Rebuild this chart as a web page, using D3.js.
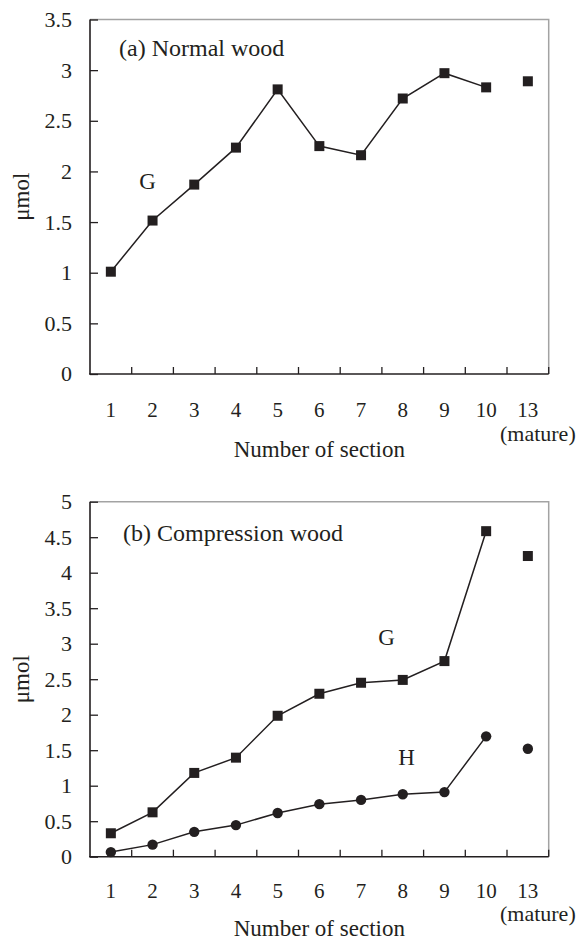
<!DOCTYPE html>
<html>
<head>
<meta charset="utf-8">
<script src="https://cdn.jsdelivr.net/npm/d3@7"></script>
<style>
  body { margin: 0; background: #fff; }
  svg { display: block; }
  text { font-family: "Liberation Serif", "Times New Roman", serif; fill: #231f20; }
</style>
</head>
<body>
<svg id="chart" width="582" height="940"></svg>
<script>
// sections along the stem; "13" is the mature section (not joined by the line)
const sections = ["1", "2", "3", "4", "5", "6", "7", "8", "9", "10", "13"];

// (a) normal wood, G units (umol)
const normalG = [1.01, 1.515, 1.87, 2.235, 2.81, 2.25, 2.16, 2.72, 2.97, 2.83, 2.89];

// (b) compression wood, G and H units (umol)
const compG = [0.33, 0.625, 1.18, 1.395, 1.985, 2.295, 2.45, 2.49, 2.755, 4.585, 4.235];
const compH = [0.065, 0.17, 0.35, 0.445, 0.615, 0.74, 0.8, 0.88, 0.91, 1.695, 1.52];

const yTicksA = d3.range(0, 3.51, 0.5);
const yTicksB = d3.range(0, 5.01, 0.5);

const ink = "#231f20";
const svg = d3.select("#chart");

const left = 90, right = 548.7;

function drawPanel(cfg) {
  const g = svg.append("g");

  const x = d3.scaleBand().domain(sections).range([left, right]).padding(0);
  const y = d3.scaleLinear().domain([0, cfg.yMax]).range([cfg.bottom, cfg.top]);

  // gray frame top + right
  g.append("path")
    .attr("d", `M${left},${cfg.top}H${right}V${cfg.bottom}`)
    .attr("fill", "none")
    .attr("stroke", "#a3a3a3")
    .attr("stroke-width", 1.5);

  // y axis, ticks pointing inward
  const yAxis = g.append("g").attr("transform", `translate(${left},0)`)
    .call(d3.axisRight(y).tickValues(cfg.yTicks).tickSize(8).tickFormat(""));
  yAxis.select(".domain").remove();
  yAxis.selectAll("line").attr("stroke", ink).attr("stroke-width", 1.3);
  g.append("line")
    .attr("x1", left).attr("x2", left)
    .attr("y1", cfg.top).attr("y2", cfg.bottom)
    .attr("stroke", ink).attr("stroke-width", 1.6);

  g.selectAll("text.ytick")
    .data(cfg.yTicks)
    .join("text")
    .attr("class", "ytick")
    .attr("x", left - 18)
    .attr("y", (d) => y(d))
    .attr("dy", "0.34em")
    .attr("text-anchor", "end")
    .attr("font-size", 22)
    .text((d) => d3.format("~g")(d));

  // x axis: ticks at band boundaries, pointing up
  const bounds = sections.map((s) => x(s) + x.bandwidth());
  g.selectAll("line.xtick")
    .data(bounds)
    .join("line")
    .attr("class", "xtick")
    .attr("x1", (d) => d).attr("x2", (d) => d)
    .attr("y1", cfg.bottom).attr("y2", cfg.bottom - 7)
    .attr("stroke", ink).attr("stroke-width", 1.3);
  g.append("line")
    .attr("x1", left - 1).attr("x2", right)
    .attr("y1", cfg.bottom).attr("y2", cfg.bottom)
    .attr("stroke", ink).attr("stroke-width", 1.6);

  g.selectAll("text.xtick")
    .data(sections)
    .join("text")
    .attr("class", "xtick")
    .attr("x", (d) => x(d) + x.bandwidth() / 2)
    .attr("y", cfg.bottom + cfg.tickDy)
    .attr("text-anchor", "middle")
    .attr("font-size", 21)
    .text((d) => d);

  g.append("text")
    .attr("x", x("13") + x.bandwidth() / 2 + 10)
    .attr("y", cfg.bottom + cfg.matureDy)
    .attr("text-anchor", "middle")
    .attr("font-size", 22)
    .text("(mature)");

  g.append("text")
    .attr("x", (left + right) / 2)
    .attr("y", cfg.bottom + cfg.titleDy)
    .attr("text-anchor", "middle")
    .attr("font-size", 23)
    .text("Number of section");

  g.append("text")
    .attr("transform", `translate(29,${(cfg.top + cfg.bottom) / 2}) rotate(-90)`)
    .attr("text-anchor", "middle")
    .attr("font-size", 23)
    .text("μmol");

  g.append("text")
    .attr("x", cfg.titleX)
    .attr("y", cfg.top + cfg.titleY)
    .attr("font-size", 24)
    .text(cfg.title);

  // series
  const line = d3.line()
    .defined((d, i) => i < sections.length - 1)
    .x((d, i) => x(sections[i]) + x.bandwidth() / 2)
    .y((d) => y(d));

  cfg.series.forEach((s) => {
    g.append("path")
      .datum(s.values)
      .attr("d", line)
      .attr("fill", "none")
      .attr("stroke", ink)
      .attr("stroke-width", 1.5);

    const pts = g.selectAll(null)
      .data(s.values)
      .join(s.shape === "square" ? "rect" : "circle")
      .attr("fill", ink);
    if (s.shape === "square") {
      pts.attr("x", (d, i) => x(sections[i]) + x.bandwidth() / 2 - 5)
        .attr("y", (d) => y(d) - 5)
        .attr("width", 10).attr("height", 10);
    } else {
      pts.attr("cx", (d, i) => x(sections[i]) + x.bandwidth() / 2)
        .attr("cy", (d) => y(d))
        .attr("r", 5.2);
    }

    g.append("text")
      .attr("x", s.labelX)
      .attr("y", y(s.labelV))
      .attr("text-anchor", "middle")
      .attr("font-size", 23)
      .text(s.name);
  });
}

drawPanel({
  top: 19.5, bottom: 374, yMax: 3.5, yTicks: yTicksA,
  title: "(a) Normal wood", titleX: 119, titleY: 36,
  tickDy: 43, matureDy: 67, titleDy: 83,
  series: [{ name: "G", values: normalG, shape: "square", labelX: 147.5, labelV: 1.826 }]
});

drawPanel({
  top: 501.7, bottom: 856.7, yMax: 5, yTicks: yTicksB,
  title: "(b) Compression wood", titleX: 123, titleY: 39,
  tickDy: 41, matureDy: 64, titleDy: 79,
  series: [
    { name: "G", values: compG, shape: "square", labelX: 386.5, labelV: 2.98 },
    { name: "H", values: compH, shape: "circle", labelX: 406.5, labelV: 1.29 }
  ]
});
</script>
</body>
</html>
